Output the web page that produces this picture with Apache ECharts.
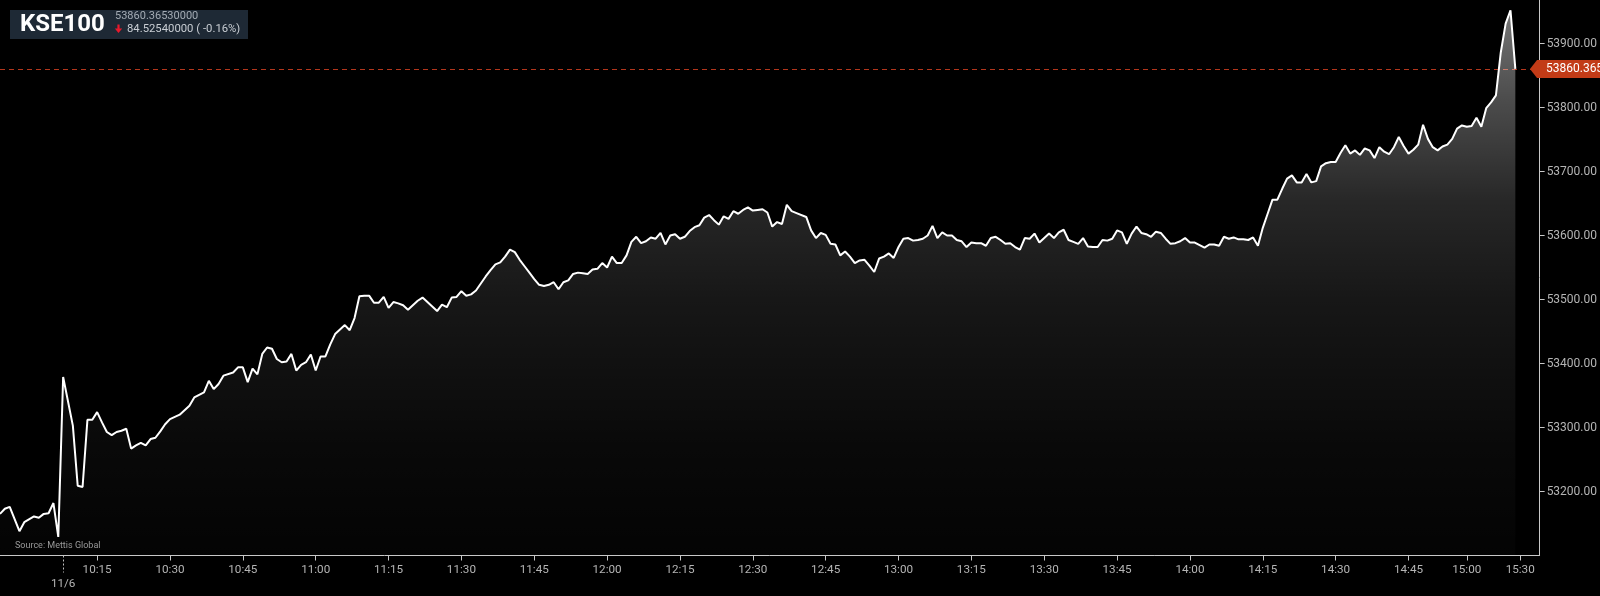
<!DOCTYPE html>
<html>
<head>
<meta charset="utf-8">
<script src="https://cdn.jsdelivr.net/npm/echarts@6/dist/echarts.min.js"></script>
<style>
html,body{margin:0;padding:0;background:#000;}
#c{width:1600px;height:596px;}
</style>
</head>
<body>
<div id="c"></div>
<script>
// ---- data (one value per bar, null = not read from picture) ----
const prices = [53165,
53173,53176,null,53138,53152,null,53161,53159,53165,53166,
53182,53129,53379,null,53303,53209,53207,53312,53312,53324,
53308,53293,53288,53293,53295,53298,53267,53272,53276,53272,
53282,53284,53294,53305,53313,null,53320,null,53334,53347,
null,53355,53373,53360,53368,53381,null,53386,53394,53394,
53371,53392,53383,53415,53425,53423,53407,53402,53403,53415,
53389,53398,53402,53414,53389,53411,53411,53430,53446,53453,
53460,53452,53471,53505,53506,53506,53495,53495,53504,53487,
53496,53494,53491,53484,53491,53498,53503,53496,53489,53482,
53492,53488,53503,53504,53513,53506,53508,53514,53525,53536,
53546,53555,53558,53567,53578,53574,53562,53552,53542,53532,
53523,53521,53523,53527,53516,53527,53530,53540,53542,53541,
53540,53547,53548,53557,53550,53567,53557,53557,53569,53590,
53598,53588,53591,53597,53595,53604,53586,53600,53602,53595,
53598,53607,53613,53616,53628,53632,53624,53617,53630,53626,
53638,53634,53640,53644,53639,53640,53641,53636,53614,53621,
53618,53648,53638,53635,null,53629,53608,53596,53604,53601,
53587,53586,53569,53575,53567,53557,53561,53562,53553,53543,
53564,53567,53572,53565,53582,53595,53596,53592,53593,53595,
53600,53615,53596,53605,53600,53600,53593,53591,53582,53589,
53588,53588,53584,53596,53598,53593,53587,53588,53582,53578,
53596,53595,53603,53589,53596,53603,53596,53605,53609,53593,
53590,53587,53596,53583,53582,53582,53593,53592,53595,53608,
53605,53587,53603,53614,53604,53602,53598,53606,53604,53595,
53587,53588,53591,53596,53589,53589,53585,53581,53586,53586,
53584,53598,53595,53597,53594,53594,53593,53597,53584,53612,
53634,53656,53656,53673,53689,53694,53683,53683,53696,53683,
53685,53708,53713,53715,53715,53729,53741,53728,53733,53726,
53736,53733,53721,53738,53731,53727,53738,53754,53740,53728,
53734,53742,53773,53751,53738,53733,53739,53742,53751,53767,
53772,53770,53771,53784,53770,53799,53808,53819,53886,53931,
53952,53860.3653];

const slotCount = 318;                 // bar slots on the time scale
const tickLabels = [
  [13,'11/6'],[20,'10:15'],[35,'10:30'],[50,'10:45'],[65,'11:00'],[80,'11:15'],
  [95,'11:30'],[110,'11:45'],[125,'12:00'],[140,'12:15'],[155,'12:30'],[170,'12:45'],
  [185,'13:00'],[200,'13:15'],[215,'13:30'],[230,'13:45'],[245,'14:00'],[260,'14:15'],
  [275,'14:30'],[290,'14:45'],[302,'15:00'],[313,'15:30']
];
const dayMarkIndex = 13;
const yMin = 53100, yMax = 53968, yStep = 100;
const lastPrice = 53860.3653;
const symbolName = 'KSE100';
const headerLast = '53860.36530000';
const headerChange = '84.52540000 ( -0.16%)';
const sourceText = 'Source: Mettis Global';

// ---- chart ----
const categories = Array.from({length: slotCount}, (_, i) => String(i));
const tickMap = new Map(tickLabels);
const FONT = 'Roboto, "Noto Sans", sans-serif';
const axisGray = '#c8c8c8';
const labelGray = '#b4b4b4';

const chart = echarts.init(document.getElementById('c'));

const header = [
  {type:'rect', id:'hdrBox', shape:{x:10,y:10,width:238,height:29}, style:{fill:'#1e2935'}, z:100},
  {type:'text', id:'hdrSym', style:{text:symbolName, x:20, y:25, fill:'#ffffff',
     font:'bold 24px ' + FONT, verticalAlign:'middle'}, z:101},
  {type:'text', id:'hdrLast', style:{text:headerLast, x:115, y:16, fill:'#a3abb4',
     font:'11px ' + FONT, verticalAlign:'middle'}, z:101},
  {type:'polygon', id:'hdrArrow', shape:{points:[[117.4,24.5],[119.6,24.5],[119.6,28.5],[122.2,28.5],[118.5,33],[114.8,28.5],[117.4,28.5]]},
     style:{fill:'#e8192c'}, z:101},
  {type:'text', id:'hdrChg', style:{text:headerChange, x:127, y:29.5, fill:'#c9ced4',
     font:'11.3px ' + FONT, verticalAlign:'middle'}, z:101},
  {type:'text', id:'src', style:{text:sourceText, x:15, y:546, fill:'#9a9a9a',
     font:'9px ' + FONT, verticalAlign:'middle'}, z:101}
];

chart.setOption({
  backgroundColor:'#000000',
  animation:false,
  grid:{left:-2, right:60, top:0, bottom:40.5, containLabel:false},
  xAxis:[{
    type:'category', data:categories, boundaryGap:false,
    axisLine:{show:true, lineStyle:{color:axisGray, width:1}},
    axisTick:{show:true, length:5, interval:(i)=> tickMap.has(i) && i!==dayMarkIndex,
      lineStyle:{color:axisGray}},
    axisLabel:{show:true, interval:(i)=> tickMap.has(i), margin:7.5,
      color:labelGray, fontSize:11.7, lineHeight:14, fontFamily:FONT,
      formatter:(v, i)=> i===dayMarkIndex ? '\n' + tickMap.get(i) : (tickMap.get(i) || '')},
    splitLine:{show:false}
  },{
    type:'category', data:categories, boundaryGap:false, position:'bottom',
    axisLine:{show:false},
    axisTick:{show:true, length:17, interval:(i)=> i===dayMarkIndex,
      lineStyle:{color:'#bdbdbd', type:[2,2]}},
    axisLabel:{show:false}, splitLine:{show:false}
  }],
  yAxis:{
    type:'value', position:'right', min:yMin, max:yMax, interval:yStep, scale:true,
    axisLine:{show:true, lineStyle:{color:axisGray}},
    axisTick:{show:true, length:5, lineStyle:{color:axisGray}},
    axisLabel:{show:true, margin:7, color:labelGray, fontSize:12, fontFamily:FONT,
      showMinLabel:false, showMaxLabel:false, formatter:(v)=> v.toFixed(2)},
    splitLine:{show:false}
  },
  series:[{
    name:'priceLine', type:'line', data:prices, symbol:'none', connectNulls:true,
    lineStyle:{opacity:0, width:0}, z:1, silent:true,
    markLine:{silent:true, z:1, symbol:['none','none'], label:{show:false},
      lineStyle:{color:'#b3361c', type:[5,4], width:1},
      data:[{yAxis:lastPrice}]}
  },{
    name:symbolName, type:'line', data:prices, symbol:'none', connectNulls:true,
    z:3, silent:true,
    lineStyle:{color:'#ffffff', width:2},
    areaStyle:{origin:'start', color:new echarts.graphic.LinearGradient(0,0,0,1,[
      {offset:0, color:'rgba(255,255,255,0.66)'},
      {offset:0.16, color:'rgba(255,255,255,0.43)'},
      {offset:0.35, color:'rgba(255,255,255,0.22)'},
      {offset:0.53, color:'rgba(255,255,255,0.13)'},
      {offset:0.8, color:'rgba(255,255,255,0.05)'},
      {offset:1, color:'rgba(255,255,255,0.02)'}
    ])}
  }],
  graphic: header
});

// price badge on the right axis, placed through the y scale
const py = chart.convertToPixel({yAxisIndex:0}, lastPrice);
chart.setOption({graphic: header.concat([
  {type:'polygon', id:'badge', shape:{points:[[1530,py],[1537,py-9],[1602,py-9],[1602,py+9],[1537,py+9]]},
    style:{fill:'#c23b17'}, z:200},
  {type:'text', id:'badgeTxt', style:{text:lastPrice.toFixed(3), x:1546, y:py+0.5, fill:'#ffffff',
    font:'12px ' + FONT, verticalAlign:'middle'}, z:201}
])});
</script>
</body>
</html>
